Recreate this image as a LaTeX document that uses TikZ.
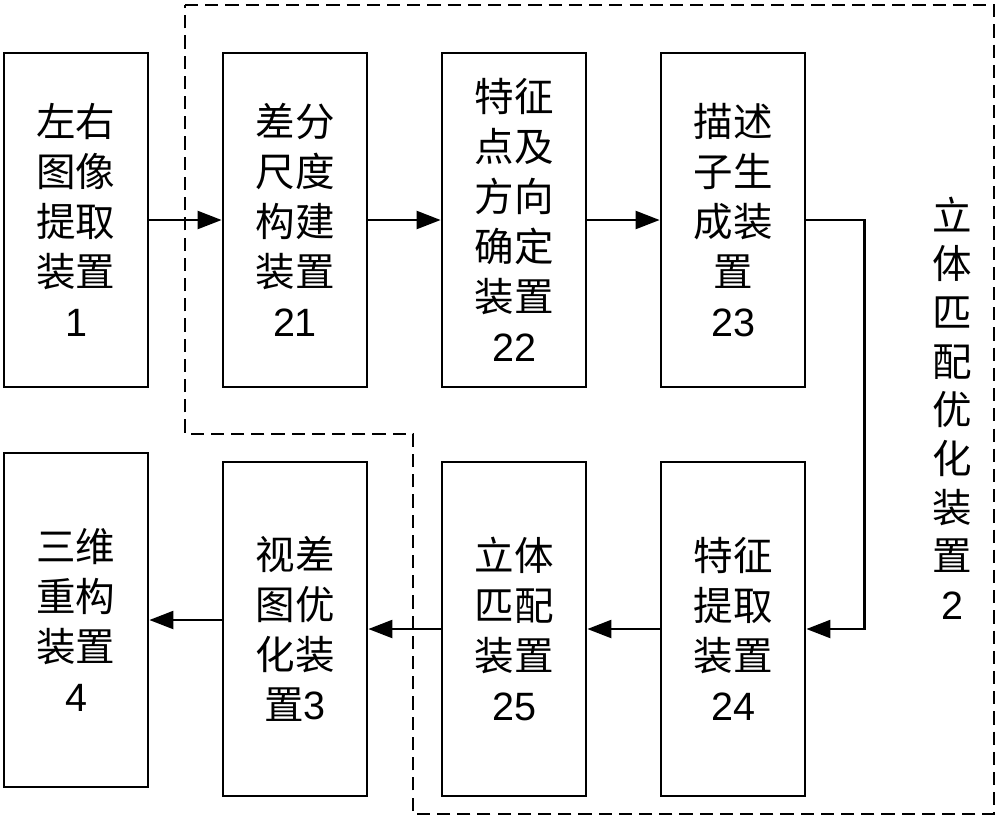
\documentclass[tikz,border=0pt]{standalone}
\usepackage{fontspec}
\setmainfont{Liberation Sans}
\newfontfamily\cjk{Noto Sans CJK SC}
\newfontfamily\digit{Liberation Sans}
\usetikzlibrary{arrows.meta}
\tikzset{
  unitbox/.style={draw, line width=1.6pt, minimum width=2.88cm, minimum height=6.68cm,
    inner sep=0pt, align=center, font=\cjk\fontsize{22.5}{28.5}\selectfont},
  flow/.style={-{Triangle[length=4.8mm,width=3.6mm]}, line width=1.3pt},
  groupline/.style={dash pattern=on 7.5pt off 4pt, line width=1.3pt}
}
\begin{document}
\begin{tikzpicture}[x=0.02cm,y=-0.02cm]
\useasboundingbox (0,0) rectangle (1000,819);
% top row
\node[unitbox] (b1) at (76,220) {左右\\图像\\提取\\装置\\{\digit 1}};
\node[unitbox] (b21) at (295,220) {差分\\尺度\\构建\\装置\\{\digit 21}};
\node[unitbox] (b22) at (514,220) {特征\\点及\\方向\\确定\\装置\\{\digit 22}};
\node[unitbox] (b23) at (733,220) {描述\\子生\\成装\\置\\{\digit 23}};
% bottom row
\node[unitbox] (b4) at (76,620) {三维\\重构\\装置\\{\digit 4}};
\node[unitbox] (b3) at (295,629) {视差\\图优\\化装\\置{\digit 3}};
\node[unitbox] (b25) at (514,629) {立体\\匹配\\装置\\{\digit 25}};
\node[unitbox] (b24) at (733,629) {特征\\提取\\装置\\{\digit 24}};
% group 2
\draw[groupline] (185,5) -- (994,5) -- (994,814) -- (413,814) -- (413,434) -- (185,434) -- cycle;
\node[align=center, font=\cjk\fontsize{22.5}{27.7}\selectfont] (g2) at (952,408)
  {立\\体\\匹\\配\\优\\化\\装\\置\\{\digit 2}};
% arrows
\draw[flow] (b1) -- (b21);
\draw[flow] (b21) -- (b22);
\draw[flow] (b22) -- (b23);
\draw[flow] (b23.east) -- ++(58,0) |- (b24.east);
\draw[flow] (b24) -- (b25);
\draw[flow] (b25) -- (b3);
\draw[flow] (b3.west |- b4.east) -- (b4.east);
\end{tikzpicture}
\end{document}
